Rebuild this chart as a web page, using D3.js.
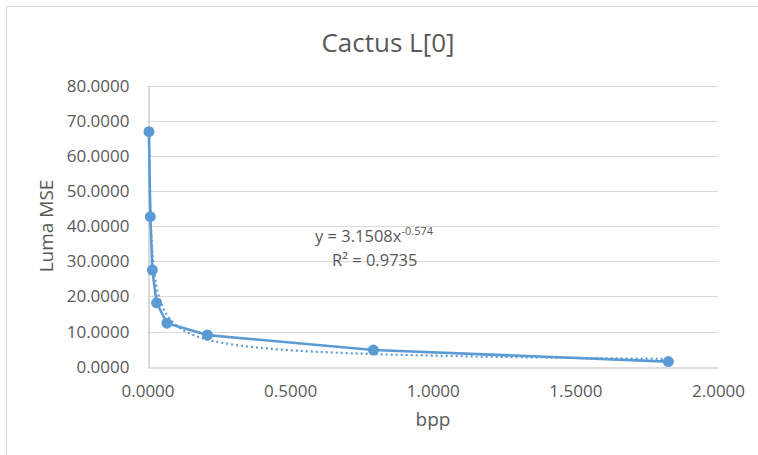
<!DOCTYPE html>
<html>
<head>
<meta charset="utf-8">
<script src="https://cdn.jsdelivr.net/npm/d3@7"></script>
<style>
  html, body { margin: 0; padding: 0; background: #fff; }
  svg { display: block; }
  text { font-family: "Open Sans", "Liberation Sans", sans-serif; fill: #595959; }
</style>
</head>
<body>
<script>
// Rate–distortion samples for the Cactus sequence, layer L[0]
const bpp = [0.005, 0.010, 0.017, 0.032, 0.068, 0.210, 0.792, 1.826];
const lumaMSE = [66.9, 42.7, 27.5, 18.2, 12.4, 9.0, 4.75, 1.45];

// Power-law trendline fitted to the samples: y = a * x^b
const trendA = 3.1508;
const trendB = -0.574;
const trendR2 = 0.9735;

const xTicks = [0, 0.5, 1.0, 1.5, 2.0];
const yTicks = [0, 10, 20, 30, 40, 50, 60, 70, 80];

const W = 758, H = 455;
const margin = { left: 147.5, right: 40, top: 85.7, bottom: 88.3 };

const svg = d3.select("body").append("svg").attr("width", W).attr("height", H);

// chart frame
svg.append("rect")
  .attr("x", 6.5).attr("y", 6.5)
  .attr("width", W + 10).attr("height", H + 10)
  .attr("fill", "none").attr("stroke", "#d9d9d9").attr("stroke-width", 1);

const x = d3.scaleLinear().domain([0, 2]).range([margin.left, W - margin.right]);
const y = d3.scaleLinear().domain([0, 80]).range([H - margin.bottom, margin.top]);

const fmt = d3.format(".4f");

// horizontal gridlines
svg.append("g")
  .selectAll("line")
  .data(yTicks.filter(d => d > 0))
  .join("line")
  .attr("x1", x(0)).attr("x2", x(2))
  .attr("y1", d => Math.round(y(d)) + 0.5).attr("y2", d => Math.round(y(d)) + 0.5)
  .attr("stroke", "#d9d9d9").attr("stroke-width", 1);

// x axis
const xAxis = svg.append("g")
  .attr("transform", `translate(0,${Math.round(y(0)) + 0.5})`)
  .call(d3.axisBottom(x).tickValues(xTicks).tickFormat(fmt).tickSize(0).tickPadding(17));
xAxis.select(".domain").attr("stroke", "#bfbfbf").attr("stroke-width", 1.2);
xAxis.selectAll("text").style("font-size", "17px").attr("fill", "#595959");

// y axis
const yAxis = svg.append("g")
  .attr("transform", `translate(${Math.round(x(0)) + 0.5},0)`)
  .call(d3.axisLeft(y).tickValues(yTicks).tickFormat(fmt).tickSize(0).tickPadding(19));
yAxis.select(".domain").attr("stroke", "#bfbfbf").attr("stroke-width", 1.2);
yAxis.selectAll("text").style("font-size", "17px").attr("fill", "#595959");

// title and axis titles
svg.append("text")
  .attr("x", 388).attr("y", 52)
  .attr("text-anchor", "middle")
  .style("font-size", "26px")
  .text("Cactus L[0]");

svg.append("text")
  .attr("transform", `translate(53,226) rotate(-90)`)
  .attr("text-anchor", "middle")
  .style("font-size", "19px")
  .text("Luma MSE");

svg.append("text")
  .attr("x", 433).attr("y", 426)
  .attr("text-anchor", "middle")
  .style("font-size", "19px")
  .text("bpp");

const color = "#5b9bd5";

// power trendline, dotted
const xMin = d3.min(bpp), xMax = d3.max(bpp);
const trendPts = d3.range(0, 401).map(i => {
  const t = i / 400;
  // sample densely near the origin where the curve is steep
  const xv = Math.exp(Math.log(xMin) + t * (Math.log(xMax) - Math.log(xMin)));
  return [xv, trendA * Math.pow(xv, trendB)];
});
svg.append("path")
  .datum(trendPts)
  .attr("fill", "none")
  .attr("stroke", color)
  .attr("stroke-width", 2.2)
  .attr("stroke-dasharray", "2,3")
  .attr("d", d3.line().x(d => x(d[0])).y(d => y(d[1])));

// data series
const pts = bpp.map((b, i) => [b, lumaMSE[i]]);
svg.append("path")
  .datum(pts)
  .attr("fill", "none")
  .attr("stroke", color)
  .attr("stroke-width", 2.6)
  .attr("stroke-linejoin", "round")
  .attr("d", d3.line().x(d => x(d[0])).y(d => y(d[1])));

svg.append("g")
  .selectAll("circle")
  .data(pts)
  .join("circle")
  .attr("cx", d => x(d[0]))
  .attr("cy", d => y(d[1]))
  .attr("r", 5.5)
  .attr("fill", color);

// trendline equation label
const eq = svg.append("text")
  .attr("x", 315).attr("y", 242)
  .style("font-size", "16.5px");
eq.append("tspan").text(`y = ${trendA}x`);
eq.append("tspan").attr("dy", -7).style("font-size", "11px").text(`${trendB}`);

const r2 = svg.append("text")
  .attr("x", 332).attr("y", 266)
  .style("font-size", "16.5px");
r2.append("tspan").text("R² = " + trendR2);
</script>
</body>
</html>
